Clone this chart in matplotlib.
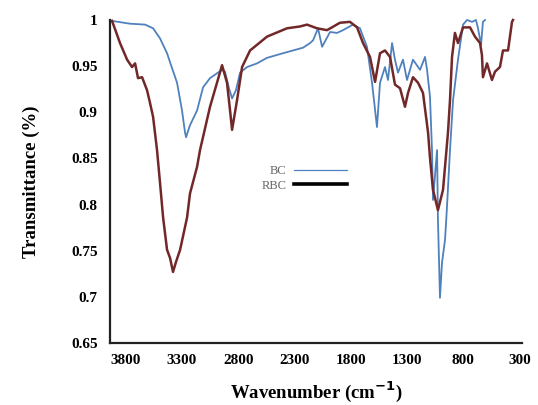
import matplotlib
matplotlib.use('Agg')
import matplotlib.pyplot as plt
from matplotlib.lines import Line2D
from matplotlib.ticker import FuncFormatter

plt.rcParams['font.family'] = ['Liberation Serif', 'DejaVu Serif']

# BC spectrum (wavenumber in cm-1, transmittance)
bc_wn = [3922, 3762, 3628, 3557, 3495, 3433, 3389, 3344, 3300, 3273, 3264, 3229,
         3166, 3113, 3051, 2944, 2918, 2882, 2855, 2820, 2784, 2722, 2633, 2544,
         2402, 2224, 2162, 2135, 2091, 2055, 1984, 1922, 1869, 1780, 1718, 1656,
         1611, 1567, 1540, 1496, 1469, 1433, 1407, 1380, 1336, 1300, 1247, 1184,
         1140, 1122, 1096, 1078, 1069, 1051, 1033, 1025, 1007, 989, 962, 945,
         918, 891, 847, 802, 767, 722, 687, 669, 642, 625, 607]
bc_t = [0.999, 0.996, 0.995, 0.991, 0.980, 0.964, 0.948, 0.932, 0.902, 0.878, 0.873, 0.886,
        0.902, 0.927, 0.937, 0.946, 0.944, 0.926, 0.915, 0.924, 0.943, 0.949, 0.953, 0.959,
        0.964, 0.970, 0.975, 0.978, 0.991, 0.971, 0.987, 0.986, 0.989, 0.995, 0.991, 0.971,
        0.932, 0.884, 0.932, 0.949, 0.935, 0.975, 0.957, 0.943, 0.957, 0.935, 0.957, 0.946,
        0.960, 0.946, 0.917, 0.859, 0.805, 0.832, 0.859, 0.783, 0.699, 0.737, 0.762, 0.797,
        0.859, 0.913, 0.957, 0.995, 1.000, 0.998, 1.000, 0.991, 0.973, 0.998, 1.000]

# RBC spectrum
rbc_wn = [3922, 3886, 3851, 3788, 3744, 3717, 3691, 3655, 3611, 3584, 3557, 3522,
          3495, 3468, 3433, 3406, 3380, 3353, 3317, 3255, 3229, 3166, 3140, 3051,
          2989, 2944, 2900, 2873, 2855, 2811, 2766, 2695, 2544, 2367, 2251, 2189,
          2100, 2011, 1896, 1807, 1744, 1691, 1629, 1584, 1540, 1496, 1451, 1407,
          1362, 1318, 1291, 1247, 1202, 1158, 1113, 1096, 1069, 1025, 980, 936,
          918, 900, 874, 847, 802, 740, 696, 651, 634, 625, 589, 545, 518, 474,
          447, 402, 367, 358]
rbc_t = [0.999, 0.987, 0.975, 0.957, 0.949, 0.953, 0.937, 0.938, 0.924, 0.910, 0.895, 0.859,
         0.823, 0.786, 0.751, 0.742, 0.727, 0.738, 0.751, 0.786, 0.812, 0.841, 0.859, 0.906,
         0.932, 0.951, 0.932, 0.902, 0.881, 0.913, 0.949, 0.967, 0.982, 0.991, 0.993, 0.995,
         0.991, 0.989, 0.997, 0.998, 0.992, 0.975, 0.960, 0.933, 0.964, 0.967, 0.960, 0.930,
         0.926, 0.906, 0.921, 0.938, 0.932, 0.921, 0.878, 0.851, 0.816, 0.794, 0.816, 0.878,
         0.913, 0.960, 0.986, 0.975, 0.992, 0.992, 0.982, 0.975, 0.962, 0.938, 0.953, 0.935,
         0.944, 0.949, 0.967, 0.967, 0.998, 1.000]

x_ticks = [3800, 3300, 2800, 2300, 1800, 1300, 800, 300]
y_ticks = [0.65, 0.7, 0.75, 0.8, 0.85, 0.9, 0.95, 1.0]

fig = plt.figure(figsize=(5.38, 4.05), dpi=100)
ax = fig.add_axes([110 / 538, 1 - 343 / 405, 412 / 538, 323 / 405])

ax.plot(bc_wn, bc_t, color='#4F81BD', lw=1.3, clip_on=False)
ax.plot(rbc_wn, rbc_t, color='#722828', lw=1.8, clip_on=False)

ax.set_xlim(3940, 278)
ax.set_ylim(0.65, 1.0)
ax.set_xticks(x_ticks)
ax.set_yticks(y_ticks)
ax.yaxis.set_major_formatter(FuncFormatter(lambda v, p: '{:g}'.format(round(v, 2))))
ax.tick_params(length=0, labelsize=11)
ax.tick_params(axis='x', pad=8)
ax.tick_params(axis='y', pad=9)
for lab in ax.get_xticklabels() + ax.get_yticklabels():
    lab.set_fontweight('bold')

for s in ['top', 'right']:
    ax.spines[s].set_visible(False)
ax.spines['left'].set_linewidth(1.6)
ax.spines['bottom'].set_linewidth(1.6)
ax.spines['left'].set_color('#222222')
ax.spines['bottom'].set_color('#222222')

ax.set_xlabel('Wavenumber (cm$^{\\mathbf{-1}}$)', fontsize=13.5, fontweight='bold', labelpad=9)
ax.set_ylabel('Transmittance (%)', fontsize=13.5, fontweight='bold', labelpad=22)

handles = [Line2D([], [], color='#4F81BD', lw=0.9),
           Line2D([], [], color='black', lw=2.6)]
leg = ax.legend(handles, ['BC', 'RBC'], frameon=False, markerfirst=False,
                loc='upper left', bbox_to_anchor=(0.341, 0.585), fontsize=9,
                handlelength=4.2, handletextpad=0.6, labelspacing=0.2)
for t in leg.get_texts():
    t.set_color('#666666')

fig.savefig('out.png', dpi=100)
